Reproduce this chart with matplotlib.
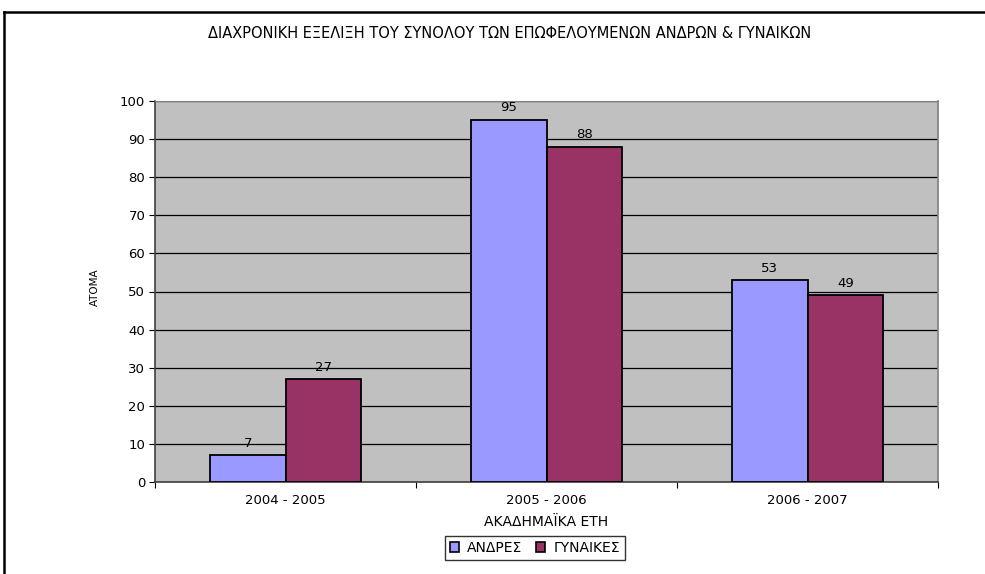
import numpy as np
import matplotlib.pyplot as plt
from matplotlib.lines import Line2D

plt.rcParams['font.family'] = ['DejaVu Sans']

# data
years = ['2004 - 2005', '2005 - 2006', '2006 - 2007']
men = [7, 95, 53]
women = [27, 88, 49]
series_names = ['ΑΝΔΡΕΣ', 'ΓΥΝΑΙΚΕΣ']
colors = ['#9999FF', '#993366']

fig = plt.figure(figsize=(9.85, 5.74), dpi=100)
ax = fig.add_axes([155 / 985, 1 - 482 / 574, (938 - 155) / 985, (482 - 101) / 574])
ax.set_facecolor('#C0C0C0')

x = np.arange(len(years))
w = 0.29
b1 = ax.bar(x - w / 2, men, w, color=colors[0], edgecolor='black', linewidth=1.3,
            label=series_names[0], zorder=3)
b2 = ax.bar(x + w / 2, women, w, color=colors[1], edgecolor='black', linewidth=1.3,
            label=series_names[1], zorder=3)
for bars in (b1, b2):
    ax.bar_label(bars, padding=4, fontsize=9.5)

ax.set_xlim(-0.5, 2.5)
ax.set_ylim(0, 100)
ax.set_yticks(range(0, 101, 10))
ax.yaxis.grid(True, color='black', linewidth=0.9, zorder=0)
ax.set_axisbelow(True)

# category ticks at boundaries, labels centered
ax.set_xticks([-0.5, 0.5, 1.5, 2.5])
ax.set_xticklabels([])
ax.set_xticks(x, minor=True)
ax.set_xticklabels(years, minor=True, fontsize=9.5)
ax.tick_params(axis='x', which='minor', length=0, pad=9)
ax.tick_params(axis='x', which='major', length=4, direction='out')
ax.tick_params(axis='y', length=4, direction='out', labelsize=9.5, pad=3)

for s in ['left', 'bottom']:
    ax.spines[s].set_color('#404040')
    ax.spines[s].set_linewidth(1.2)
ax.spines['right'].set_color('#808080')
ax.spines['right'].set_linewidth(1.2)
ax.spines['top'].set_color('#808080')
ax.spines['top'].set_linewidth(0.8)

ax.set_xlabel('ΑΚΑΔΗΜΑΪΚΑ ΕΤΗ', fontsize=10)
ax.xaxis.set_label_coords(0.5, -(522 - 482) / 381)
ax.xaxis.label.set_va('center')
ax.set_ylabel('ΑΤΟΜΑ', fontsize=7.5)
ax.yaxis.set_label_coords(-(155 - 95) / 783, (482 - 287) / 381)
ax.yaxis.label.set_va('center')

fig.text(510 / 985, 1 - 34 / 574, 'ΔΙΑΧΡΟΝΙΚΗ ΕΞΕΛΙΞΗ ΤΟΥ ΣΥΝΟΛΟΥ ΤΩΝ ΕΠΩΦΕΛΟΥΜΕΝΩΝ ΑΝΔΡΩΝ & ΓΥΝΑΙΚΩΝ',
         ha='center', va='center', fontsize=10.5)

leg = fig.legend(loc='center', bbox_to_anchor=(535 / 985, 1 - 548 / 574), ncol=2,
                 fontsize=10, frameon=True, fancybox=False, edgecolor='black',
                 handlelength=0.65, handleheight=0.65, handletextpad=0.6,
                 columnspacing=1.0, borderpad=0.35, borderaxespad=0)
leg.get_frame().set_linewidth(1.0)
for h in leg.legend_handles:
    h.set_edgecolor('black')
    h.set_linewidth(1.2)

# outer chart border (top and left visible)
fig.add_artist(Line2D([4 / 985, 1], [1 - 12 / 574, 1 - 12 / 574], color='black', linewidth=1.8,
                      transform=fig.transFigure))
fig.add_artist(Line2D([4 / 985, 4 / 985], [0, 1 - 12 / 574], color='black', linewidth=1.8,
                      transform=fig.transFigure))

fig.savefig('out.png', dpi=100)
